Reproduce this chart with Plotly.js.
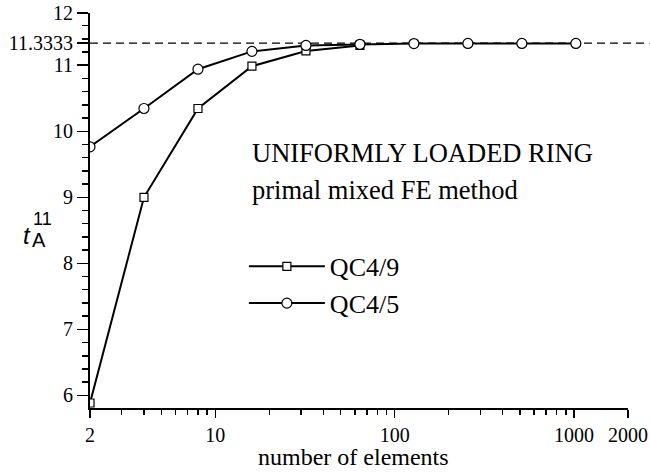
<!DOCTYPE html>
<html>
<head>
<meta charset="utf-8">
<script src="https://cdn.plot.ly/plotly-3.0.1.min.js"></script>
<style>html,body{margin:0;padding:0;background:#fff;}#chart{width:650px;height:472px;}</style>
</head>
<body>
<div id="chart"></div>
<script>
// Data
const qc49_elements = [2, 4, 8, 16, 32, 64];
const qc49_values   = [5.885, 9.0, 10.345, 10.985, 11.216, 11.30];
const qc45_elements = [2, 4, 8, 16, 32, 64, 128, 256, 512, 1024];
const qc45_values   = [9.765, 10.345, 10.94, 11.21, 11.30, 11.317, 11.328, 11.33, 11.33, 11.33];
const exactValue = 11.3333;
const seriesNames = ["QC4/9", "QC4/5"];
const xTickVals = [2, 10, 100, 1000, 2000];
const xTickText = ["2", "10", "100", "1000", "2000"];
const yTickVals = [6, 7, 8, 9, 10, 11, 11.3333, 11.791];
const yTickText = ["6", "7", "8", "9", "10", "11", "11.3333", "12"];
const yRange = [5.809, 11.791];
const xRange = [Math.log10(2), Math.log10(2000)];

const xMinor = [3,4,5,6,7,8,9,20,30,40,50,60,70,80,90,200,300,400,500,600,700,800,900];
const yMinor = [];
for (let v = 6.2; v < 11.7; v += 0.2) {
  const r = Math.round(v * 10) / 10;
  if (Math.abs(r - Math.round(r)) > 0.01) yMinor.push(r);
}
const yMajorRight = [6, 7, 8, 9, 10, 11];

const serif = "Liberation Serif, Times New Roman, serif";
const sans = "Liberation Sans, Arial, sans-serif";

const traces = [
  {
    x: qc49_elements, y: qc49_values, name: seriesNames[0],
    type: "scatter", mode: "lines+markers",
    line: {color: "#000", width: 2},
    marker: {symbol: "square", size: 8, color: "#fff", line: {color: "#000", width: 1.2}},
    xaxis: "x", yaxis: "y"
  },
  {
    x: qc45_elements, y: qc45_values, name: seriesNames[1],
    type: "scatter", mode: "lines+markers",
    line: {color: "#000", width: 2},
    marker: {symbol: "circle", size: 10, color: "#fff", line: {color: "#000", width: 1.2}},
    xaxis: "x", yaxis: "y"
  }
];

const layout = {
  width: 650, height: 472,
  margin: {l: 90, r: 22, t: 13, b: 64, pad: 0},
  paper_bgcolor: "#fff", plot_bgcolor: "#fff",
  font: {family: serif, size: 20, color: "#000"},
  showlegend: true,
  legend: {
    x: 0.286, y: 0.418, xanchor: "left", yanchor: "top",
    font: {family: serif, size: 26, color: "#000"},
    bgcolor: "rgba(0,0,0,0)", borderwidth: 0,
    itemwidth: 76, tracegroupgap: 0
  },
  xaxis: {
    type: "log", range: xRange,
    tickvals: xTickVals, ticktext: xTickText,
    ticks: "outside", ticklen: 8, tickwidth: 1.5, tickcolor: "#000",
    minor: {tickvals: xMinor, ticks: "outside", ticklen: 5, tickwidth: 1.5, tickcolor: "#000", showgrid: false},
    showline: true, linewidth: 2, linecolor: "#000",
    showgrid: false, zeroline: false,
    tickfont: {family: serif, size: 20}
  },
  xaxis2: {
    type: "log", range: xRange, overlaying: "x", side: "top", anchor: "y",
    tickvals: xTickVals, showticklabels: false,
    ticks: "inside", ticklen: 12, tickwidth: 1.5, tickcolor: "#000",
    minor: {tickvals: xMinor, ticks: "inside", ticklen: 5, tickwidth: 1.5, tickcolor: "#000", showgrid: false},
    showline: true, linewidth: 2, linecolor: "#000",
    showgrid: false, zeroline: false
  },
  yaxis: {
    range: yRange,
    tickvals: yTickVals, ticktext: yTickText,
    ticks: "outside", ticklen: 11, tickwidth: 1.5, tickcolor: "#000",
    minor: {tickvals: yMinor, ticks: "outside", ticklen: 6, tickwidth: 1.5, tickcolor: "#000", showgrid: false},
    showline: true, linewidth: 2, linecolor: "#000",
    showgrid: false, zeroline: false,
    tickfont: {family: serif, size: 20}
  },
  yaxis2: {
    range: yRange, overlaying: "y", side: "right", anchor: "x",
    tickvals: yMajorRight, showticklabels: false,
    ticks: "inside", ticklen: 8, tickwidth: 1.5, tickcolor: "#000",
    minor: {tickvals: yMinor, ticks: "inside", ticklen: 6, tickwidth: 1.5, tickcolor: "#000", showgrid: false},
    showline: true, linewidth: 2, linecolor: "#000",
    showgrid: false, zeroline: false
  },
  shapes: [
    {type: "line", xref: "paper", x0: 0, x1: 1.04, yref: "y", y0: exactValue, y1: exactValue,
     line: {color: "#000", width: 1.2, dash: "8px,5px"}, layer: "below"}
  ],
  annotations: [
    {text: "number of elements", xref: "paper", yref: "paper", x: 0.49, y: -0.1585,
     xanchor: "center", yanchor: "bottom", borderpad: 0, showarrow: false,
     font: {family: serif, size: 24, color: "#000"}},
    {text: "UNIFORMLY LOADED RING", xref: "paper", yref: "paper", x: 0.2976, y: 0.6454,
     xanchor: "left", yanchor: "middle", showarrow: false, font: {family: serif, size: 26.5, color: "#000"}},
    {text: "primal mixed FE method", xref: "paper", yref: "paper", x: 0.2976, y: 0.552,
     xanchor: "left", yanchor: "middle", showarrow: false, font: {family: serif, size: 26.5, color: "#000"}},
    {text: "<i>t</i>", xref: "paper", yref: "paper", x: -0.117, y: 0.4355,
     xanchor: "center", yanchor: "middle", showarrow: false, font: {family: sans, size: 24, color: "#000"}},
    {text: "11", xref: "paper", yref: "paper", x: -0.0883, y: 0.4773,
     xanchor: "center", yanchor: "middle", showarrow: false, font: {family: sans, size: 18, color: "#000"}},
    {text: "A", xref: "paper", yref: "paper", x: -0.0948, y: 0.4254,
     xanchor: "center", yanchor: "middle", showarrow: false, font: {family: sans, size: 20, color: "#000"}}
  ]
};

Plotly.newPlot("chart", traces, layout, {displayModeBar: false, staticPlot: true});
</script>
</body>
</html>
